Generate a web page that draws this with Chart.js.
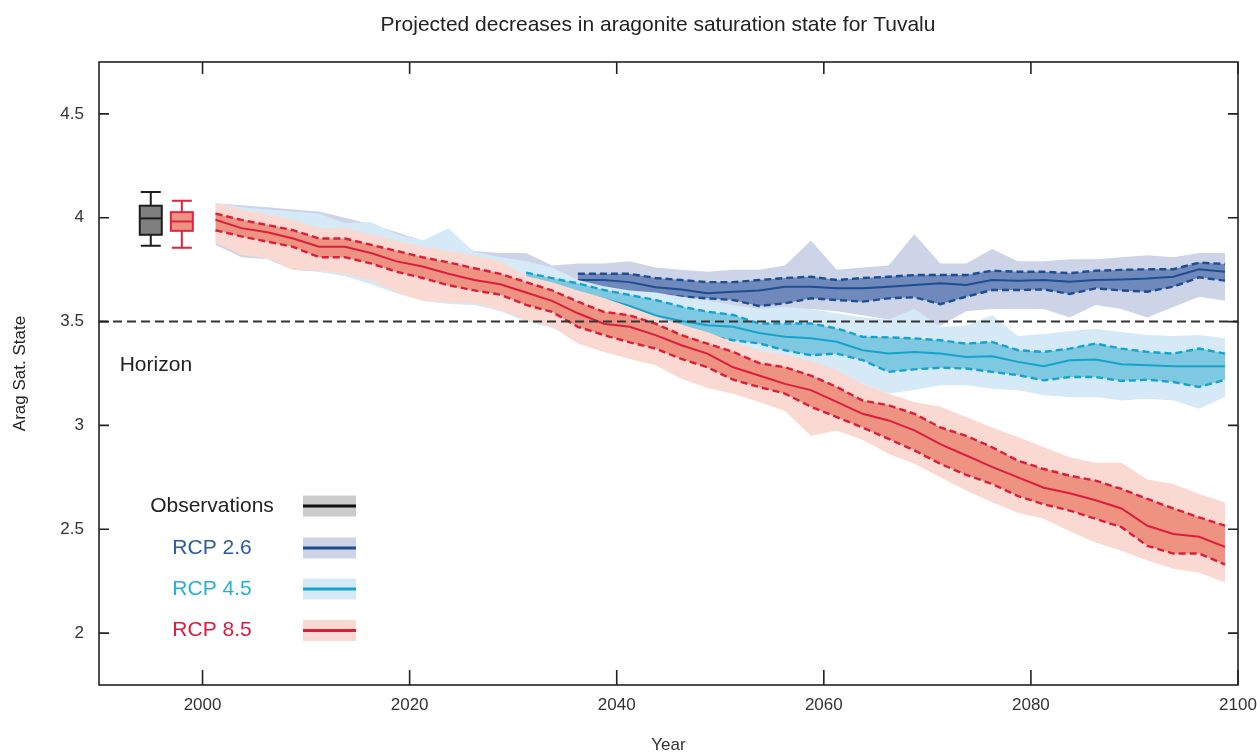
<!DOCTYPE html>
<html><head><meta charset="utf-8">
<script src="https://cdn.jsdelivr.net/npm/chart.js@4/dist/chart.umd.min.js"></script>
<style>html,body{margin:0;padding:0;background:#fff}#wrap{width:1257px;height:752px;position:relative}</style>
</head><body><div id="wrap"><canvas id="c" width="1257" height="752"></canvas></div>
<script>
const FONT = '"Liberation Sans", Arial, Helvetica, sans-serif';

const chartTitle = 'Projected decreases in aragonite saturation state for Tuvalu';
const xTitle = 'Year';
const yTitle = 'Arag Sat. State';
const xTicks = [2000, 2020, 2040, 2060, 2080, 2100];
const yTicks = [2, 2.5, 3, 3.5, 4, 4.5];
const horizonValue = 3.5;
const horizonText = 'Horizon';

const years = [2001.25, 2003.75, 2006.25, 2008.75, 2011.25, 2013.75, 2016.25, 2018.75, 2021.25, 2023.75,
  2026.25, 2028.75, 2031.25, 2033.75, 2036.25, 2038.75, 2041.25, 2043.75, 2046.25, 2048.75,
  2051.25, 2053.75, 2056.25, 2058.75, 2061.25, 2063.75, 2066.25, 2068.75, 2071.25, 2073.75,
  2076.25, 2078.75, 2081.25, 2083.75, 2086.25, 2088.75, 2091.25, 2093.75, 2096.25, 2098.75];

// RCP 2.6
const rcp26OuterHi = [4.07, 4.06, 4.05, 4.04, 4.03, 4.00, 3.97, 3.93, 3.89, 3.90, 3.84, 3.83, 3.83, 3.77, 3.78, 3.78, 3.79, 3.76, 3.75, 3.74,
  3.75, 3.75, 3.77, 3.89, 3.75, 3.76, 3.77, 3.92, 3.78, 3.78, 3.85, 3.79, 3.79, 3.80, 3.80, 3.81, 3.82, 3.81, 3.83, 3.83];
const rcp26OuterLo = [3.87, 3.81, 3.80, 3.75, 3.74, 3.72, 3.69, 3.64, 3.60, 3.59, 3.58, 3.57, 3.56, 3.55, 3.55, 3.55, 3.56, 3.56, 3.57, 3.58,
  3.57, 3.56, 3.56, 3.56, 3.55, 3.53, 3.51, 3.52, 3.48, 3.55, 3.56, 3.56, 3.56, 3.52, 3.58, 3.56, 3.52, 3.57, 3.62, 3.60];
const rcp26InnerHi = [null, null, null, null, null, null, null, null, null, null, null, null, null, null, 3.73, 3.73, 3.73, 3.71, 3.70, 3.69,
  3.69, 3.70, 3.71, 3.716, 3.70, 3.71, 3.716, 3.724, 3.724, 3.724, 3.745, 3.74, 3.74, 3.733, 3.745, 3.749, 3.752, 3.752, 3.784, 3.777];
const rcp26Median = [null, null, null, null, null, null, null, null, null, null, null, null, null, null, 3.70, 3.70, 3.69, 3.665, 3.655, 3.636,
  3.644, 3.65, 3.668, 3.668, 3.66, 3.66, 3.668, 3.676, 3.684, 3.676, 3.70, 3.697, 3.70, 3.692, 3.70, 3.703, 3.708, 3.716, 3.752, 3.74];
const rcp26InnerLo = [null, null, null, null, null, null, null, null, null, null, null, null, null, null, 3.66, 3.65, 3.64, 3.63, 3.62, 3.612,
  3.604, 3.575, 3.588, 3.612, 3.604, 3.596, 3.612, 3.617, 3.584, 3.62, 3.652, 3.652, 3.655, 3.633, 3.66, 3.65, 3.644, 3.668, 3.713, 3.697];

// RCP 4.5
const rcp45OuterHi = [4.07, 4.05, 4.04, 4.03, 4.02, 3.975, 3.98, 3.92, 3.89, 3.95, 3.835, 3.81, 3.79, 3.76, 3.70, 3.67, 3.65, 3.64, 3.62, 3.60,
  3.58, 3.56, 3.57, 3.56, 3.54, 3.52, 3.51, 3.56, 3.475, 3.48, 3.53, 3.43, 3.44, 3.455, 3.465, 3.45, 3.435, 3.43, 3.435, 3.42];
const rcp45OuterLo = [3.88, 3.83, 3.80, 3.76, 3.74, 3.72, 3.68, 3.635, 3.60, 3.585, 3.58, 3.55, 3.50, 3.47, 3.42, 3.39, 3.36, 3.33, 3.31, 3.30,
  3.30, 3.29, 3.28, 3.27, 3.26, 3.20, 3.153, 3.17, 3.193, 3.193, 3.177, 3.169, 3.145, 3.137, 3.137, 3.12, 3.128, 3.12, 3.08, 3.137];
const rcp45InnerHi = [null, null, null, null, null, null, null, null, null, null, null, null, 3.736, 3.709, 3.684, 3.652, 3.628, 3.604, 3.572, 3.548,
  3.532, 3.491, 3.491, 3.491, 3.467, 3.427, 3.424, 3.419, 3.41, 3.394, 3.402, 3.362, 3.354, 3.37, 3.394, 3.37, 3.354, 3.346, 3.37, 3.346];
const rcp45Median = [null, null, null, null, null, null, null, null, null, null, null, null, 3.70, 3.67, 3.64, 3.61, 3.575, 3.53, 3.503, 3.482,
  3.475, 3.445, 3.427, 3.42, 3.403, 3.362, 3.346, 3.354, 3.346, 3.33, 3.333, 3.306, 3.285, 3.314, 3.317, 3.295, 3.29, 3.285, 3.285, 3.285];
const rcp45InnerLo = [null, null, null, null, null, null, null, null, null, null, null, null, 3.66, 3.63, 3.60, 3.57, 3.53, 3.49, 3.46, 3.43,
  3.41, 3.395, 3.362, 3.338, 3.346, 3.314, 3.258, 3.27, 3.278, 3.274, 3.258, 3.242, 3.217, 3.233, 3.233, 3.214, 3.22, 3.209, 3.185, 3.22];

// RCP 8.5
const rcp85OuterHi = [4.07, 4.04, 4.015, 3.99, 3.95, 3.95, 3.92, 3.89, 3.86, 3.84, 3.816, 3.79, 3.72, 3.69, 3.65, 3.615, 3.57, 3.525, 3.485, 3.45,
  3.40, 3.36, 3.34, 3.31, 3.266, 3.20, 3.153, 3.113, 3.09, 3.04, 2.99, 2.944, 2.895, 2.847, 2.82, 2.82, 2.74, 2.718, 2.67, 2.63];
const rcp85OuterLo = [3.88, 3.82, 3.805, 3.75, 3.745, 3.73, 3.70, 3.64, 3.60, 3.593, 3.59, 3.555, 3.507, 3.475, 3.394, 3.354, 3.32, 3.29, 3.225, 3.18,
  3.153, 3.113, 3.07, 2.95, 2.976, 2.93, 2.863, 2.815, 2.75, 2.686, 2.63, 2.58, 2.55, 2.49, 2.436, 2.396, 2.35, 2.31, 2.29, 2.243];
const rcp85InnerHi = [4.02, 3.99, 3.965, 3.94, 3.90, 3.90, 3.87, 3.84, 3.81, 3.785, 3.757, 3.73, 3.69, 3.65, 3.596, 3.547, 3.53, 3.49, 3.435, 3.394,
  3.354, 3.30, 3.28, 3.24, 3.185, 3.12, 3.097, 3.056, 2.99, 2.95, 2.895, 2.83, 2.79, 2.758, 2.734, 2.694, 2.646, 2.60, 2.557, 2.517];
const rcp85Median = [3.99, 3.95, 3.93, 3.90, 3.86, 3.86, 3.83, 3.79, 3.765, 3.73, 3.70, 3.68, 3.64, 3.60, 3.54, 3.49, 3.475, 3.435, 3.386, 3.346,
  3.28, 3.24, 3.20, 3.17, 3.113, 3.056, 3.024, 2.976, 2.91, 2.855, 2.80, 2.75, 2.70, 2.673, 2.64, 2.60, 2.517, 2.477, 2.464, 2.415];
const rcp85InnerLo = [3.94, 3.91, 3.885, 3.86, 3.81, 3.81, 3.78, 3.74, 3.71, 3.675, 3.65, 3.63, 3.58, 3.547, 3.475, 3.435, 3.40, 3.37, 3.32, 3.28,
  3.22, 3.185, 3.153, 3.09, 3.04, 2.99, 2.935, 2.88, 2.815, 2.762, 2.718, 2.66, 2.62, 2.59, 2.55, 2.51, 2.42, 2.383, 2.383, 2.33];

// Observation / model baseline box plots
const boxLabels = ['Observations', 'RCP 8.5'];
const boxYears = [1995, 1998];
const boxMin = [3.865, 3.855];
const boxQ1 = [3.918, 3.937];
const boxMed = [3.997, 3.982];
const boxQ3 = [4.058, 4.027];
const boxMax = [4.124, 4.082];

const legendLabels = ['Observations', 'RCP 2.6', 'RCP 4.5', 'RCP 8.5'];

// styles
const C = {
  obs:  {band: '#cbcbcb', line: '#111111', text: '#222222', boxFill: '#7f7f7f', boxLine: '#1e1e1e'},
  r26:  {outer: '#cdd4e8', inner: '#6f89bd', line: '#1d4e8f', text: '#2a5c9c'},
  r45:  {outer: '#d5eaf6', inner: '#7fc8e2', line: '#17a2cc', text: '#27aed8'},
  r85:  {outer: '#f9d9d1', inner: '#ee9282', line: '#dc1e3d', text: '#d81b3f', boxFill: '#ee9282', boxLine: '#e0243f'}
};

function pts(vals) {
  const out = [];
  vals.forEach((v, i) => { if (v !== null) out.push({x: years[i], y: v}); });
  return out;
}
function band(hi, lo, color) {
  return [
    {data: pts(hi), borderWidth: 0, borderColor: 'rgba(0,0,0,0)', backgroundColor: color, fill: '+1'},
    {data: pts(lo), borderWidth: 0, borderColor: 'rgba(0,0,0,0)', fill: false}
  ];
}
function scenario(oh, ol, ih, md, il, c) {
  const ds = [];
  ds.push(...band(oh, ol, c.outer));
  ds.push({data: pts(ih), borderWidth: 2.4, borderColor: c.line, borderDash: [7, 4], backgroundColor: c.inner, fill: '+1'});
  ds.push({data: pts(il), borderWidth: 2.4, borderColor: c.line, borderDash: [7, 4], fill: false});
  ds.push({data: pts(md), borderWidth: 2, borderColor: c.line, fill: false});
  return ds;
}

const datasets = [
  ...scenario(rcp26OuterHi, rcp26OuterLo, rcp26InnerHi, rcp26Median, rcp26InnerLo, C.r26),
  ...scenario(rcp45OuterHi, rcp45OuterLo, rcp45InnerHi, rcp45Median, rcp45InnerLo, C.r45),
  ...scenario(rcp85OuterHi, rcp85OuterLo, rcp85InnerHi, rcp85Median, rcp85InnerLo, C.r85),
  {data: [{x: 1990, y: horizonValue}, {x: 2100, y: horizonValue}], borderWidth: 2, borderColor: '#333333', borderDash: [9, 5], fill: false}
];
datasets.forEach((d, i) => {
  d.order = datasets.length - i;
  d.pointRadius = 0;
  d.pointHoverRadius = 0;
  d.tension = 0;
  d.borderCapStyle = 'butt';
});

const decor = {
  id: 'decor',
  afterDatasetsDraw(chart) {
    const {ctx, scales: {x, y}} = chart;
    const boxStyles = [C.obs, C.r85];
    ctx.save();
    for (let i = 0; i < boxYears.length; i++) {
      const cx = x.getPixelForValue(boxYears[i]);
      const hw = 11;
      const st = boxStyles[i];
      ctx.strokeStyle = st.boxLine;
      ctx.lineWidth = 2;
      ctx.beginPath();
      ctx.moveTo(cx, y.getPixelForValue(boxMax[i])); ctx.lineTo(cx, y.getPixelForValue(boxQ3[i]));
      ctx.moveTo(cx, y.getPixelForValue(boxQ1[i])); ctx.lineTo(cx, y.getPixelForValue(boxMin[i]));
      ctx.moveTo(cx - 10, y.getPixelForValue(boxMax[i])); ctx.lineTo(cx + 10, y.getPixelForValue(boxMax[i]));
      ctx.moveTo(cx - 10, y.getPixelForValue(boxMin[i])); ctx.lineTo(cx + 10, y.getPixelForValue(boxMin[i]));
      ctx.stroke();
      const top = y.getPixelForValue(boxQ3[i]), bot = y.getPixelForValue(boxQ1[i]);
      ctx.fillStyle = st.boxFill;
      ctx.fillRect(cx - hw, top, hw * 2, bot - top);
      ctx.strokeRect(cx - hw, top, hw * 2, bot - top);
      ctx.beginPath();
      ctx.moveTo(cx - hw, y.getPixelForValue(boxMed[i])); ctx.lineTo(cx + hw, y.getPixelForValue(boxMed[i]));
      ctx.stroke();
    }
    ctx.restore();
  },
  afterDraw(chart) {
    const {ctx, chartArea: a, scales: {x, y}} = chart;
    ctx.save();
    ctx.strokeStyle = '#222';
    ctx.lineWidth = 1.6;
    ctx.strokeRect(a.left, a.top, a.right - a.left, a.bottom - a.top);
    ctx.beginPath();
    xTicks.forEach(v => {
      const px = x.getPixelForValue(v);
      ctx.moveTo(px, a.bottom); ctx.lineTo(px, a.bottom - 15);
      ctx.moveTo(px, a.top); ctx.lineTo(px, a.top + 12);
    });
    yTicks.forEach(v => {
      const py = y.getPixelForValue(v);
      ctx.moveTo(a.left, py); ctx.lineTo(a.left + 10, py);
      ctx.moveTo(a.right, py); ctx.lineTo(a.right - 10, py);
    });
    ctx.stroke();
    ctx.fillStyle = '#222';
    ctx.font = '21px ' + FONT;
    ctx.textAlign = 'center';
    ctx.textBaseline = 'middle';
    ctx.fillText(chartTitle, 658, 25);
    ctx.textAlign = 'left';
    ctx.fillText(horizonText, x.getPixelForValue(1992), y.getPixelForValue(3.29));
    const rows = [C.obs, C.r26, C.r45, C.r85];
    const rowY = [506, 548, 589, 630.5];
    rows.forEach((st, i) => {
      ctx.fillStyle = st.text;
      ctx.textAlign = 'center';
      ctx.fillText(legendLabels[i], 212, rowY[i]);
      ctx.fillStyle = st.band || st.outer;
      ctx.fillRect(303, rowY[i] - 10.5, 53, 21);
      ctx.strokeStyle = st.line;
      ctx.lineWidth = 3;
      ctx.beginPath();
      ctx.moveTo(303, rowY[i]); ctx.lineTo(356, rowY[i]);
      ctx.stroke();
    });
    ctx.restore();
  }
};

new Chart(document.getElementById('c'), {
  type: 'line',
  data: {datasets},
  options: {
    responsive: false,
    animation: false,
    devicePixelRatio: 1,
    layout: {padding: {top: 62, right: 19, bottom: 0, left: 0}},
    plugins: {legend: {display: false}, tooltip: {enabled: false}, title: {display: false}},
    events: [],
    scales: {
      x: {
        type: 'linear', min: 1990, max: 2100,
        afterBuildTicks: s => { s.ticks = xTicks.map(v => ({value: v})); },
        afterFit: s => { s.height = 67; s.paddingLeft = 0; s.paddingRight = 0; },
        grid: {display: false, drawTicks: false},
        border: {display: false},
        ticks: {padding: 10, autoSkip: false, maxRotation: 0, color: '#333', font: {family: FONT, size: 17}, callback: v => String(v)},
        title: {display: true, text: xTitle, color: '#333', font: {family: FONT, size: 17}, padding: {top: 0, bottom: -4}}
      },
      y: {
        type: 'linear', min: 1.75, max: 4.75,
        afterBuildTicks: s => { s.ticks = yTicks.map(v => ({value: v})); },
        afterFit: s => { s.width = 99; s.paddingTop = 0; s.paddingBottom = 0; },
        grid: {display: false, drawTicks: false},
        border: {display: false},
        ticks: {padding: 15, color: '#333', font: {family: FONT, size: 17}, callback: v => String(v)},
        title: {display: true, text: yTitle, color: '#222', font: {family: FONT, size: 17}, padding: {top: 10, bottom: 0}}
      }
    }
  },
  plugins: [decor]
});
</script></body></html>
